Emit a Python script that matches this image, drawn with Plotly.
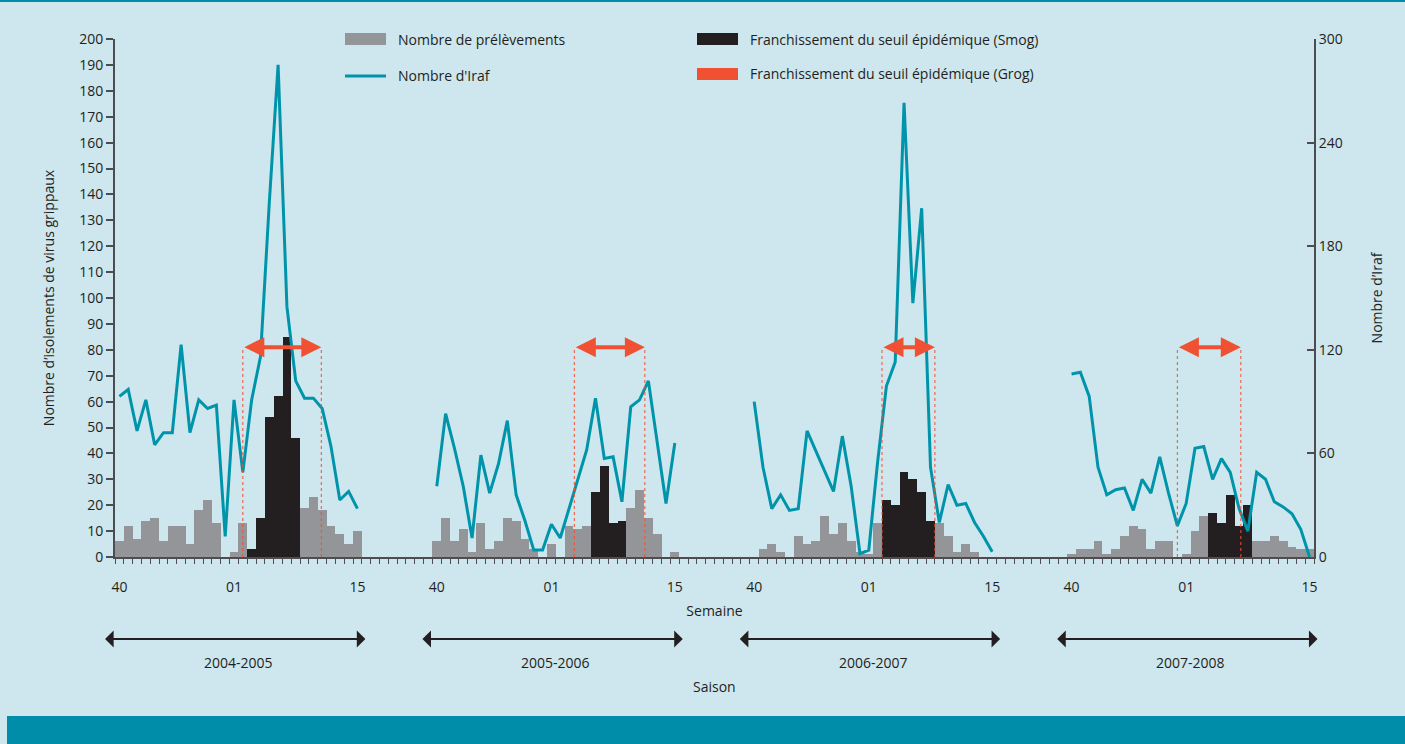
import plotly.graph_objects as go

# ---------------------------------------------------------------- data
saisons = ["2004-2005", "2005-2006", "2006-2007", "2007-2008"]
semaines = [f"{w:02d}" for w in range(40, 53)] + [f"{w:02d}" for w in range(1, 16)]
semaines_affichees = ["40", "01", "15"]

# Nombre de prélèvements (axe gauche), semaine 40 -> semaine 15
prelevements_2004 = [6, 12, 7, 14, 15, 6, 12, 12, 5, 18, 22, 13, 0, 2,
                     13, 3, 15, 54, 62, 85, 46, 19, 23, 18, 12, 9, 5, 10]
prelevements_2005 = [6, 15, 6, 11, 2, 13, 3, 6, 15, 14, 7, 3, 0, 5,
                     0, 12, 11, 12, 25, 35, 13, 14, 19, 26, 15, 9, 0, 2]
prelevements_2006 = [0, 3, 5, 2, 0, 8, 5, 6, 16, 9, 13, 6, 2, 1,
                     13, 22, 20, 33, 30, 25, 14, 13, 8, 2, 5, 2, 0, 0]
prelevements_2007 = [1, 3, 3, 6, 1, 3, 8, 12, 11, 3, 6, 6, 0, 1,
                     10, 16, 17, 13, 24, 12, 20, 6, 6, 8, 6, 4, 3, 3]

# Nombre d'Iraf (axe droit)
iraf_2004 = [93, 97, 73, 91, 65, 72, 72, 123, 72, 91, 86, 88, 12, 91,
             49, 91, 116, 205, 285, 145, 102, 92, 92, 86, 64, 33, 38, 28]
iraf_2005 = [41, 83, 63, 41, 11, 59, 37, 54, 79, 36, 21, 4, 4, 19,
             11, 28, 44, 62, 92, 57, 58, 32, 87, 91, 102, 66, 31, 66]
iraf_2006 = [90, 52, 28, 36, 27, 28, 73, 61, 50, 38, 70, 41, 2, 4,
             55, 99, 113, 263, 147, 202, 52, 20, 42, 30, 31, 20, 12, 3]
iraf_2007 = [106, 107, 93, 52, 36, 39, 40, 27, 45, 37, 58, 37, 18, 31,
             63, 64, 45, 57, 49, 28, 15, 49, 45, 32, 29, 25, 16, 0]

# franchissement du seuil épidémique
smog_debut = ["03", "06", "03", "04"]
smog_fin = ["08", "09", "08", "08"]
grog_debut = [14.0, 15.6, 14.5, 12.0]  # en semaines depuis la semaine 40
grog_fin = [22.9, 23.6, 20.5, 19.2]

prelevements = [prelevements_2004, prelevements_2005, prelevements_2006, prelevements_2007]
iraf = [iraf_2004, iraf_2005, iraf_2006, iraf_2007]

# ---------------------------------------------------------------- style
GRIS = "#939598"
NOIR = "#231f20"
ROUGE = "#f05133"
TURQUOISE = "#0094ab"
FOND = "#cee6ee"
BANDE = "#008da9"
AXE = "#4d4d4f"
POLICE = "Open Sans"

W, H = 1405, 744
ML, MR, MT, MB = 115, 91, 39, 187
PAS = 36  # emplacements par saison (28 semaines + intervalle)


def px(x):
    return (x - ML) / (W - ML - MR)


def py(y):
    return (H - MB - y) / (H - MT - MB)


x_gris, y_gris, x_noir, y_noir = [], [], [], []
x_ligne, y_ligne = [], []
for s, saison in enumerate(saisons):
    base = s * PAS
    i0 = semaines.index(smog_debut[s])
    i1 = semaines.index(smog_fin[s])
    for i, v in enumerate(prelevements[s]):
        if i0 <= i <= i1:
            x_noir.append(base + i)
            y_noir.append(v)
        else:
            x_gris.append(base + i)
            y_gris.append(v)
    x_ligne += [base + i for i in range(len(iraf[s]))] + [None]
    y_ligne += iraf[s] + [None]

fig = go.Figure()
fig.add_trace(go.Bar(x=x_gris, y=y_gris, marker_color=GRIS, marker_line_width=0,
                     name="Nombre de prélèvements", width=1))
fig.add_trace(go.Bar(x=x_noir, y=y_noir, marker_color=NOIR, marker_line_width=0,
                     name="Franchissement du seuil épidémique (Smog)", width=1))
fig.add_trace(go.Scatter(x=x_ligne, y=y_ligne, mode="lines", yaxis="y2",
                         line=dict(color=TURQUOISE, width=3), name="Nombre d'Iraf"))

shapes, annotations = [], []

# seuil Grog : flèches rouges et pointillés
Y_FLECHE = 81
for s in range(len(saisons)):
    a, b = s * PAS + grog_debut[s], s * PAS + grog_fin[s]
    for xv in (a, b):
        shapes.append(dict(type="line", xref="x", yref="y", x0=xv, x1=xv, y0=0, y1=Y_FLECHE,
                           line=dict(color=ROUGE, width=1, dash="dot")))
    annotations.append(dict(xref="x", yref="y", x=b, y=Y_FLECHE, axref="x", ayref="pixel",
                            ax=a, ay=0, text="", showarrow=True, arrowside="end+start",
                            arrowhead=2, startarrowhead=2, arrowwidth=4, arrowsize=1,
                            startarrowsize=1, arrowcolor=ROUGE, standoff=0, startstandoff=0))

# saisons : flèches noires et libellés
for s, saison in enumerate(saisons):
    a, b = s * PAS - 1.8, s * PAS + len(semaines) - 1 + 0.9
    annotations.append(dict(xref="x", yref="paper", x=b, y=py(639), axref="x", ayref="pixel",
                            ax=a, ay=0, text="", showarrow=True, arrowside="end+start",
                            arrowhead=1, startarrowhead=1, arrowwidth=2.2, arrowsize=1.3,
                            startarrowsize=1.3, arrowcolor=NOIR, standoff=0, startstandoff=0))
    annotations.append(dict(xref="x", yref="paper", x=s * PAS + 13.5, y=py(662), text=saison,
                            xanchor="center", yanchor="middle", showarrow=False,
                            font=dict(size=14, color=NOIR)))
annotations.append(dict(xref="paper", yref="paper", x=px(714), y=py(686), text="Saison",
                        xanchor="center", yanchor="middle", showarrow=False,
                        font=dict(size=14, color=NOIR)))

# légende
legende = [
    ("rect", GRIS, 345, 39, "Nombre de prélèvements"),
    ("line", TURQUOISE, 345, 76, "Nombre d'Iraf"),
    ("rect", NOIR, 697, 39, "Franchissement du seuil épidémique (Smog)"),
    ("rect", ROUGE, 697, 74, "Franchissement du seuil épidémique (Grog)"),
]
for kind, col, lx, ly, txt in legende:
    if kind == "rect":
        shapes.append(dict(type="rect", xref="paper", yref="paper", x0=px(lx), x1=px(lx + 41),
                           y0=py(ly + 6), y1=py(ly - 6), fillcolor=col, line_width=0))
    else:
        shapes.append(dict(type="line", xref="paper", yref="paper", x0=px(lx), x1=px(lx + 41),
                           y0=py(ly), y1=py(ly), line=dict(color=col, width=3)))
    annotations.append(dict(xref="paper", yref="paper", x=px(lx + 51), y=py(ly), text=txt,
                            xanchor="left", yanchor="middle", showarrow=False,
                            font=dict(size=14, color=NOIR)))

# cadre : filet du haut et bande du bas
shapes.append(dict(type="rect", xref="paper", yref="paper", x0=px(0), x1=px(W), y0=py(2), y1=py(0),
                   fillcolor=BANDE, line_width=0, layer="below"))
shapes.append(dict(type="rect", xref="paper", yref="paper", x0=px(7), x1=px(W), y0=py(H), y1=py(716),
                   fillcolor=BANDE, line_width=0, layer="below"))

fig.update_layout(
    width=W, height=H, autosize=False,
    margin=dict(l=ML, r=MR, t=MT, b=MB),
    paper_bgcolor=FOND, plot_bgcolor=FOND,
    font=dict(family=POLICE, size=14, color=NOIR),
    showlegend=False, barmode="overlay", bargap=0,
    shapes=shapes, annotations=annotations,
    xaxis=dict(
        range=[-0.5, len(saisons) * PAS - PAS + len(semaines) - 0.5],
        tickvals=[s * PAS + semaines.index(t) for s in range(len(saisons)) for t in semaines_affichees],
        ticktext=[t for s in range(len(saisons)) for t in semaines_affichees],
        ticks="", ticklabelstandoff=16,
        minor=dict(ticks="outside", tick0=-0.5, dtick=1, ticklen=5, tickwidth=1, tickcolor=AXE),
        showline=True, linecolor=AXE, linewidth=2, showgrid=False, zeroline=False,
        title=dict(text="Semaine", standoff=11, font=dict(size=14)),
    ),
    yaxis=dict(
        range=[0, 200], dtick=10, ticks="outside", ticklen=7, tickwidth=2, tickcolor=AXE,
        showline=True, linecolor=AXE, linewidth=2, showgrid=False, zeroline=False,
        title=dict(text="Nombre d’isolements de virus grippaux", standoff=21, font=dict(size=14)),
    ),
    yaxis2=dict(
        overlaying="y", side="right", range=[0, 300], tickvals=[0, 60, 120, 180, 240, 300],
        ticks="inside", ticklen=7, tickwidth=2, tickcolor=AXE,
        showline=True, linecolor=AXE, linewidth=2, showgrid=False, zeroline=False,
        title=dict(text="Nombre d’Iraf", standoff=30, font=dict(size=14)),
    ),
)

fig.write_html("out.html", config={"displayModeBar": False},
               post_script="document.body.style.margin='0';")
